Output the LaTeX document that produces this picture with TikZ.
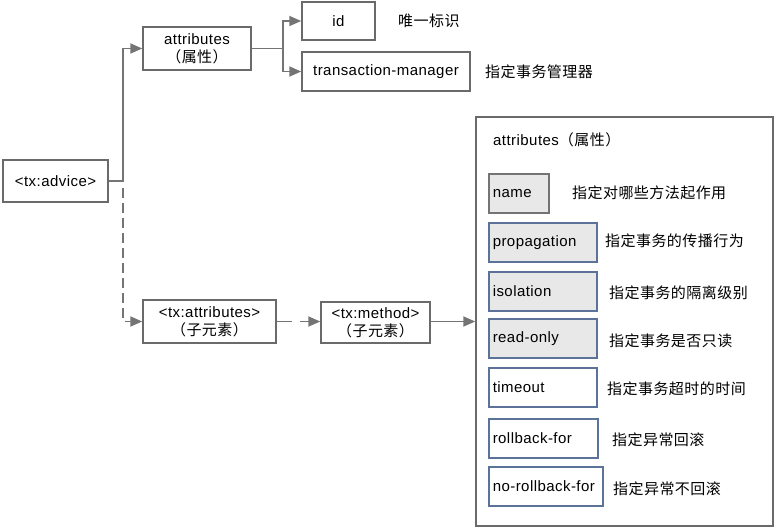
\documentclass[tikz,border=0pt]{standalone}
\usepackage{fontspec}
\setmainfont{Liberation Sans}[LetterSpace=3]
\newfontfamily\cjk{Noto Sans CJK SC}[LetterSpace=3]
\usetikzlibrary{arrows.meta}
\definecolor{linegray}{HTML}{747474}
\definecolor{boxgray}{HTML}{6A6A6A}
\definecolor{optblue}{HTML}{5B7399}
\definecolor{optfill}{HTML}{E8E8E8}
\newcommand{\zh}[1]{{\cjk #1}}
\tikzset{
	elembox/.style={draw=boxgray,line width=1.5pt,fill=white,inner sep=2pt,align=center,font=\fontsize{15}{18}\selectfont},
	grayopt/.style={draw=linegray,fill=optfill},
	blueopt/.style={draw=optblue,fill=optfill},
	plainopt/.style={draw=optblue,fill=white},
	conn/.style={draw=linegray,line width=1.8pt},
	tip/.style={-{Triangle[length=12pt,width=10pt]}},
	desc/.style={anchor=west,inner sep=0pt,font=\fontsize{15}{17}\selectfont\cjk},
}
\begin{document}
\begin{tikzpicture}[x=1pt,y=-1pt]
	\useasboundingbox (0,0) rectangle (779,530);
		%Root
			\node[elembox,minimum width=105,minimum height=42] (advice) at (55.5,181) {<tx:advice>};
		%Attributes branch
			\node[elembox,minimum width=108,minimum height=43] (attr) at (197,48.5) {attributes\\\zh{（属性）}};
			\node[elembox,minimum width=73,minimum height=38] (id) at (338.5,21) {id};
			\node[elembox,minimum width=168,minimum height=39] (tm) at (386,71.5) {transaction-manager};
			\node[desc] (iddesc) at (398,21) {唯一标识};
			\node[desc] (tmdesc) at (485,72) {指定事务管理器};
		%Sub elements
			\node[elembox,minimum width=133,minimum height=43] (txattr) at (209.5,321.5) {<tx:attributes>\\\zh{（子元素）}};
			\node[elembox,minimum width=109,minimum height=41] (txmethod) at (375.5,322.5) {<tx:method>\\\zh{（子元素）}};
		%Method attributes
			\node[draw=boxgray,line width=1.5pt,minimum width=297,minimum height=409] (mattr) at (624.5,321.5) {};
			\node[anchor=west,inner sep=0pt,font=\fontsize{15}{17}\selectfont] (mattrtitle) at (493,140) {attributes\zh{（属性）}};
			\foreach \t/\w/\lbl/\sty/\dx/\dy/\txt [count=\i] in {
				173/60/name/grayopt/572/193/指定对哪些方法起作用,
				222/108/propagation/blueopt/605/241/指定事务的传播行为,
				271/108/isolation/blueopt/609/293/指定事务的隔离级别,
				318/108/read-only/blueopt/609/341/指定事务是否只读,
				367/108/timeout/plainopt/607/389/指定事务超时的时间,
				418/109/rollback-for/plainopt/612/440/指定异常回滚,
				466/114/no-rollback-for/plainopt/613/489/指定异常不回滚}
			{
				\pgfmathsetmacro\tw{\w-8}
				\node[\sty,line width=1.5pt,anchor=north west,inner xsep=4pt,minimum height=39,text width=\tw pt,align=left,font=\fontsize{15}{17}\selectfont] (opt\i) at (488,\t) {\lbl};
				\node[desc] (optdesc\i) at (\dx,\dy) {\txt};
			}
		%Connectors
			\coordinate (fork) at (123,181);
			\coordinate (dashstart) at (123,188);
			\coordinate (split) at (283,48.5);
			\draw[conn,tip] (advice.east) -- (fork) |- (attr.west);
			\draw[conn,tip] (attr.east) -- (split) |- (id.west);
			\draw[conn,tip] (split) |- (tm.west);
			\draw[conn,tip,dash pattern=on 10pt off 5pt] (dashstart) |- (txattr.west);
			\draw[conn,tip,dash pattern=on 15pt off 8pt] (txattr.east) -- (txmethod.west |- txattr.east);
			\draw[conn,tip] (txmethod.east |- mattr.west) -- (mattr.west);
	\end{tikzpicture}
\end{document}
